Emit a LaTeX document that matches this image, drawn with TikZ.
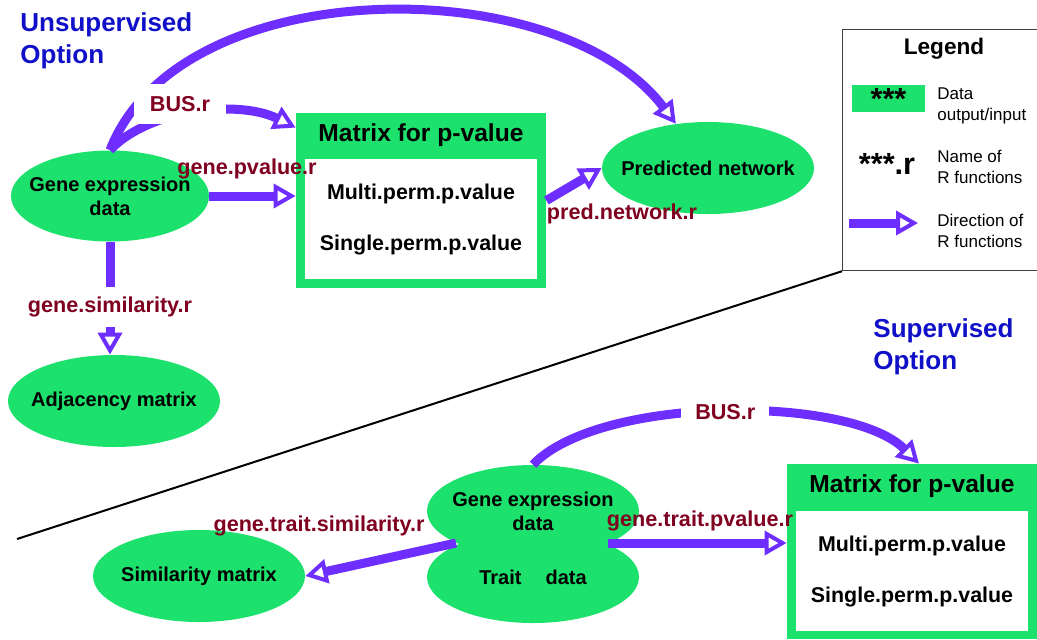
\documentclass[tikz,border=0pt]{standalone}
\usepackage{fontspec}
\setmainfont{Liberation Sans}
\usetikzlibrary{shapes.geometric,arrows.meta,positioning}
\definecolor{dgreen}{RGB}{28,225,108}
\definecolor{fpurple}{RGB}{110,46,255}
\definecolor{rred}{RGB}{128,0,32}
\definecolor{oblue}{RGB}{16,16,200}
\tikzset{
  data/.style={ellipse, fill=dgreen, minimum width=106pt, minimum height=46pt, inner sep=0pt},
  dtext/.style={align=center, inner sep=0pt, font=\bfseries\fontsize{10}{12}\selectfont},
  fn/.style={draw=fpurple, line width=4.5pt, -{Triangle[open, length=11pt, width=12pt, line width=2pt]}},
  rname/.style={text=rred, font=\bfseries\fontsize{10.8}{13}\selectfont},
  gbox/.style={fill=dgreen, minimum width=125pt, minimum height=87.5pt, inner sep=0pt},
  wbox/.style={fill=white, minimum width=116pt, minimum height=60pt, inner sep=0pt},
  mtitle/.style={font=\bfseries\fontsize{12.3}{14}\selectfont},
  pval/.style={font=\bfseries\fontsize{10.7}{13}\selectfont},
  optitle/.style={text=oblue, align=left, inner sep=0pt, anchor=north west, font=\bfseries\fontsize{13}{16}\selectfont},
  legtext/.style={align=left, inner sep=0pt, anchor=west, font=\fontsize{8.5}{10.5}\selectfont}
}
\begin{document}
\begin{tikzpicture}[x=0.5pt, y=-0.5pt]
  \useasboundingbox (0,0) rectangle (1037,639);
  \node[optitle] (ut) at (20,12.5) {Unsupervised\\Option};
  \node[optitle] (st) at (873,318.5) {Supervised\\Option};

  \node[data, minimum width=99pt, minimum height=45.5pt] (ge) at (110,196) {};
  \node[dtext] at (ge) {Gene expression\\data};
  \node[data] (adj) at (114,401) {};
  \node[dtext] at (adj) {Adjacency matrix};
  \node[data] (pn) at (708,168) {};
  \node[dtext] at (pn) {Predicted network};
  \node[gbox] (mat) at (421,200.5) {};
  \node[wbox] (mati) at (421,219) {};
  \node[mtitle] (matt) at (421,135) {Matrix for p-value};
  \node[pval] (mm) at (421,194) {Multi.perm.p.value};
  \node[pval] (ms) at (421,245) {Single.perm.p.value};

  \draw[fn] (ge.north) .. controls (180,-30) and (560,-30) .. (pn.126);
  \draw[fn] (ge.north) .. controls (150,108) and (240,100) .. ([yshift=-7.5pt]mat.north west);
  \node[rname, fill=white, inner xsep=8pt, inner ysep=6pt] (bus) at (180,104) {BUS.r};
  \draw[fn] (ge.east) -- (ge.east -| mat.west);
  \node[rname] (gp) at (247,169) {gene.pvalue.r};
  \draw[fn] (mat.east) -- (pn.west);
  \node[rname] (pr) at (622,214) {pred.network.r};
  \draw[fn] (ge.south) -- (ge.south |- adj.north) node[rname, fill=white, pos=0.58, inner ysep=5pt] (gs) {gene.similarity.r};

  \node[draw=black!75, line width=0.6pt, anchor=north west, minimum width=102pt, minimum height=120.5pt] (lg) at (842,29) {};
  \coordinate (dl) at (17,539);
  \draw[line width=1pt] (lg.south west) -- (dl);
  \node[font=\bfseries\fontsize{11.3}{13}\selectfont] (lgt) at (944,49) {Legend};
  \node[fill=dgreen, minimum width=36.5pt, minimum height=13.5pt, inner sep=0pt, font=\bfseries\fontsize{15.3}{16}\selectfont] (lgb) at (888.5,98.5) {***};
  \node[legtext] (l1) at (937,105.5) {Data\\output/input};
  \node[font=\bfseries\fontsize{15.3}{16}\selectfont, inner sep=0pt] (lgr) at (887,164) {***.r};
  \node[legtext] (l2) at (937,167) {Name of\\R functions};
  \coordinate (la) at (849,223);
  \coordinate (lb) at (918,223);
  \draw[fn] (la) -- (lb);
  \node[legtext] (l3) at (937,231) {Direction of\\R functions};

  \node[data] (tr) at (533,577) {};
  \node[data] (ge2) at (533,511) {};
  \node[dtext] at (tr) {Trait\hspace{1.2em}data};
  \node[dtext] at (ge2) {Gene expression\\data};
  \node[data] (sim) at (199,576) {};
  \node[dtext] at (sim) {Similarity matrix};
  \node[gbox] (bm) at (912,551.5) {};
  \node[wbox] (bmi) at (912,571) {};
  \node[mtitle] (bmt) at (912,486) {Matrix for p-value};
  \node[pval] (bmm) at (912,546) {Multi.perm.p.value};
  \node[pval] (bms) at (912,597) {Single.perm.p.value};

  \coordinate (gl) at (456,543);
  \coordinate (gr) at (608,543);
  \draw[fn] (ge2.north) .. controls (600,395) and (850,395) .. ([xshift=3.5pt]bm.north) node[rname, fill=white, pos=0.5, inner xsep=7pt] (bus2) {BUS.r};
  \draw[fn] (gl) -- (sim.east);
  \node[rname] (gts) at (319,526) {gene.trait.similarity.r};
  \draw[fn] (gr) -- (gr -| bm.west);
  \node[rname] (gtp) at (700,521) {gene.trait.pvalue.r};
\end{tikzpicture}
\end{document}
